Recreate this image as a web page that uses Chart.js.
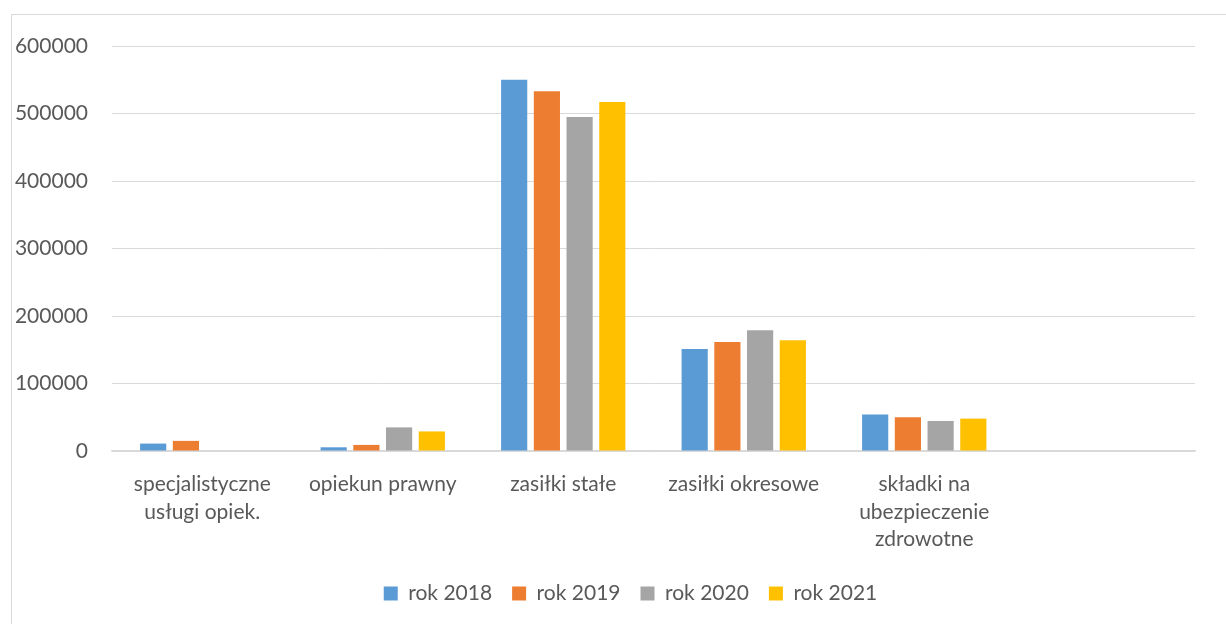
<!DOCTYPE html>
<html>
<head>
<meta charset="utf-8">
<script src="https://cdn.jsdelivr.net/npm/chart.js@4"></script>
<style>
    html, body { margin: 0; padding: 0; background: #ffffff; }
    #wrap { position: relative; width: 1226px; height: 624px; overflow: hidden; }
    #ramka { position: absolute; left: 11px; top: 14px; width: 1400px; height: 800px; border: 1px solid #d9d9d9; box-sizing: border-box; }
    #graphic { position: absolute; left: 0; top: 0; }
</style>
</head>
<body>
<div id="wrap">
    <div id="ramka"></div>
    <canvas id="graphic" width="1226" height="624"></canvas>
</div>
<script>
const kategorie = [
    ['specjalistyczne', 'usługi opiek.'],
    'opiekun prawny',
    'zasiłki stałe',
    'zasiłki okresowe',
    ['składki na', 'ubezpieczenie', 'zdrowotne'],
    ''
];
const rok2018 = [11000, 5500, 550000, 151000, 54000, null];
const rok2019 = [15000, 9000, 533000, 161500, 50000, null];
const rok2020 = [0, 35000, 495000, 179000, 44500, null];
const rok2021 = [0, 29000, 517000, 164000, 48000, null];
const y_ticks = [0, 100000, 200000, 300000, 400000, 500000, 600000];

const font_name = 'Lato, "Open Sans", sans-serif';
const tekst = '#595959';

const ctx = document.getElementById("graphic");

let zestaw = (label, data, color) => ({
    label: label,
    data: data,
    backgroundColor: color,
    borderWidth: 0,
    barPercentage: 0.8,
    categoryPercentage: 0.725
});

// przesuniecie legendy w prawo, jak w oryginale
const przesunLegende = {
    id: 'przesunLegende',
    afterLayout: (chart) => {
        if (chart.legend) {
            chart.legend.left += 33;
            chart.legend.right += 33;
        }
    }
};

new Chart(ctx, {
    type: 'bar',
    data: {
        labels: kategorie,
        datasets: [
            zestaw('rok 2018', rok2018, '#5B9BD5'),
            zestaw('rok 2019', rok2019, '#ED7D31'),
            zestaw('rok 2020', rok2020, '#A5A5A5'),
            zestaw('rok 2021', rok2021, '#FFC000')
        ]
    },
    options: {
        responsive: false,
        animation: false,
        layout: {
            padding: {left: 0, right: 31, top: 46, bottom: 10}
        },
        scales: {
            y: {
                min: 0,
                max: y_ticks[y_ticks.length - 1],
                afterBuildTicks: (scale) => {
                    scale.ticks = y_ticks.map(v => ({value: v}));
                },
                afterFit: (scale) => { scale.width = 112; },
                ticks: {
                    color: tekst,
                    padding: 24,
                    font: {family: font_name, size: 21},
                    callback: (value) => String(value)
                },
                grid: {color: '#d9d9d9', lineWidth: 1, drawTicks: false},
                border: {display: false}
            },
            x: {
                afterFit: (scale) => { scale.height = 112; },
                ticks: {
                    color: tekst,
                    padding: 12,
                    maxRotation: 0,
                    autoSkip: false,
                    font: {family: font_name, size: 21, lineHeight: 1.3}
                },
                grid: {display: false},
                border: {display: true, color: '#d9d9d9', width: 1.5}
            }
        },
        plugins: {
            legend: {
                position: 'bottom',
                labels: {
                    color: tekst,
                    boxWidth: 14,
                    boxHeight: 14,
                    padding: 20,
                    font: {family: font_name, size: 21}
                }
            },
            tooltip: {enabled: false}
        }
    },
    plugins: [przesunLegende]
});
</script>
</body>
</html>
